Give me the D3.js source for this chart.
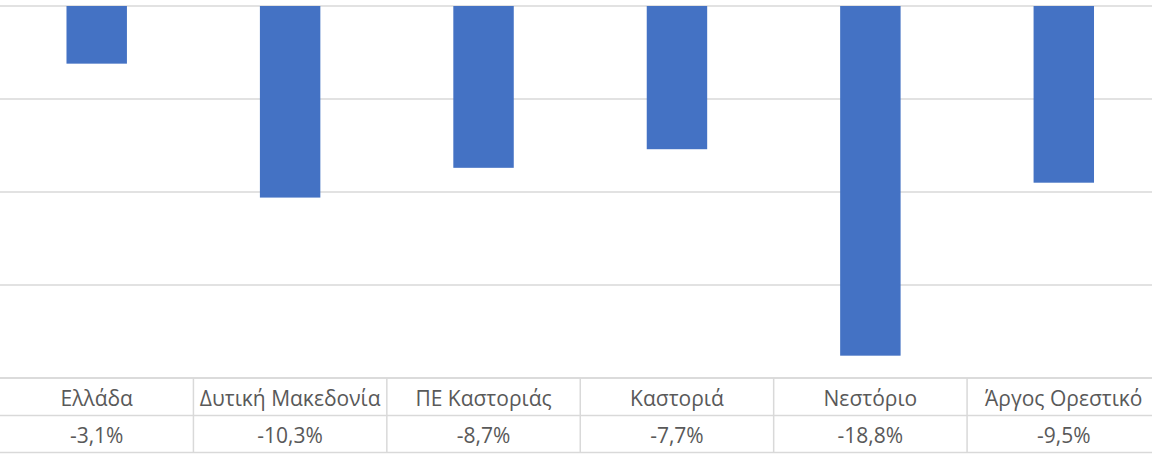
<!DOCTYPE html>
<html>
<head>
<meta charset="utf-8">
<script src="https://cdn.jsdelivr.net/npm/d3@7"></script>
<style>
  body { margin: 0; background: #fff; }
  svg { display: block; }
</style>
</head>
<body>
<script>
const categories = ['Ελλάδα', 'Δυτική Μακεδονία', 'ΠΕ Καστοριάς', 'Καστοριά', 'Νεστόριο', 'Άργος Ορεστικό'];
const values = [-3.1, -10.3, -8.7, -7.7, -18.8, -9.5];
const yTicks = [0, -5, -10, -15, -20];

const W = 1152, H = 454;
const grid = '#d9d9d9';
const txt = '#595959';
const font = '"Open Sans", sans-serif';

const fmt = d3.formatLocale({decimal: ',', thousands: '.', grouping: [3], currency: ['', '€'], minus: '-'}).format('.1f');

const svg = d3.select('body').append('svg')
    .attr('width', W)
    .attr('height', H);

const y = d3.scaleLinear().domain([-20, 0]).range([378, 6]);

// the table runs a little past the right edge of the picture
const xCol = d3.scaleBand().domain(categories).range([0, 1160.5]);
const xBar = d3.scaleBand().domain(categories).range([0, 1160.5])
    .paddingInner(0.6875).paddingOuter(0.34375);

// gridlines
svg.append('g')
    .selectAll('line')
    .data(yTicks)
    .join('line')
    .attr('x1', 0).attr('x2', W)
    .attr('y1', d => y(d)).attr('y2', d => y(d))
    .attr('stroke', grid)
    .attr('stroke-width', 1.5);

// bars
svg.append('g')
    .selectAll('rect')
    .data(values)
    .join('rect')
    .attr('x', (d, i) => xBar(categories[i]))
    .attr('width', xBar.bandwidth())
    .attr('y', d => y(0))
    .attr('height', d => y(d) - y(0))
    .attr('fill', '#4472C4');

// data table
const rowTop = y(-20), rowMid = 415.5, rowBot = 452.5;
const table = svg.append('g');

table.selectAll('line.h')
    .data([rowTop, rowMid, rowBot])
    .join('line')
    .attr('class', 'h')
    .attr('x1', 0).attr('x2', W)
    .attr('y1', d => d).attr('y2', d => d)
    .attr('stroke', grid)
    .attr('stroke-width', 1.5);

table.selectAll('line.v')
    .data(categories.slice(1))
    .join('line')
    .attr('class', 'v')
    .attr('x1', d => xCol(d)).attr('x2', d => xCol(d))
    .attr('y1', rowTop).attr('y2', rowBot)
    .attr('stroke', grid)
    .attr('stroke-width', 1.5);

table.selectAll('text.cat')
    .data(categories)
    .join('text')
    .attr('class', 'cat')
    .attr('x', d => xCol(d) + xCol.bandwidth() / 2)
    .attr('y', (rowTop + rowMid) / 2)
    .attr('dy', '0.44em')
    .attr('text-anchor', 'middle')
    .attr('fill', txt)
    .style('font-family', font)
    .style('font-size', '21px')
    .text(d => d);

table.selectAll('text.val')
    .data(values)
    .join('text')
    .attr('class', 'val')
    .attr('x', (d, i) => xCol(categories[i]) + xCol.bandwidth() / 2)
    .attr('y', (rowMid + rowBot) / 2)
    .attr('dy', '0.44em')
    .attr('text-anchor', 'middle')
    .attr('fill', txt)
    .style('font-family', font)
    .style('font-size', '21px')
    .text(d => fmt(d) + '%');
</script>
</body>
</html>
